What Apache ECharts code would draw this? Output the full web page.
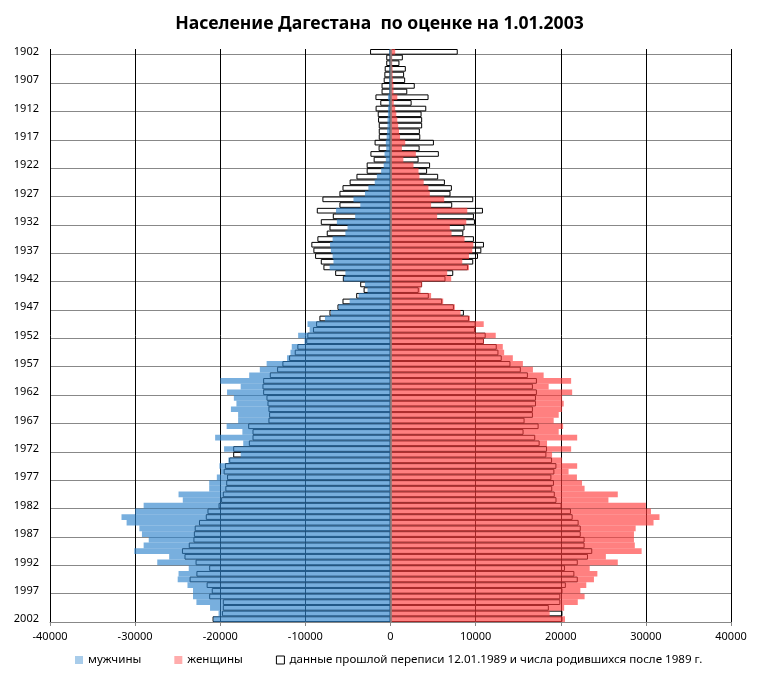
<!DOCTYPE html>
<html>
<head>
<meta charset="utf-8">
<script src="https://cdn.jsdelivr.net/npm/echarts@6/dist/echarts.min.js"></script>
<style>
  html, body { margin: 0; padding: 0; background: #fff; }
  #chart { width: 759px; height: 683px; }
</style>
</head>
<body>
<div id="chart"></div>
<script>
// birth years, top to bottom
const years = [
  '1902','1903','1904','1905','1906','1907','1908','1909','1910','1911',
  '1912','1913','1914','1915','1916','1917','1918','1919','1920','1921',
  '1922','1923','1924','1925','1926','1927','1928','1929','1930','1931',
  '1932','1933','1934','1935','1936','1937','1938','1939','1940','1941',
  '1942','1943','1944','1945','1946','1947','1948','1949','1950','1951',
  '1952','1953','1954','1955','1956','1957','1958','1959','1960','1961',
  '1962','1963','1964','1965','1966','1967','1968','1969','1970','1971',
  '1972','1973','1974','1975','1976','1977','1978','1979','1980','1981',
  '1982','1983','1984','1985','1986','1987','1988','1989','1990','1991',
  '1992','1993','1994','1995','1996','1997','1998','1999','2000','2001',
  '2002'
];

// estimate 1.01.2003, men (left side, negative)
const menNow = [
  -150,-100,-100,-120,-120,-150,-150,-150,-300,-200,
  -300,-300,-350,-350,-400,-450,-550,-500,-700,-550,
  -800,-1100,-1600,-1850,-2600,-3000,-4350,-3550,-6400,-4150,
  -6300,-5050,-5300,-6800,-7100,-7000,-6800,-6700,-7150,-5300,
  -5500,-3000,-2700,-3750,-4800,-6100,-7000,-7700,-9750,-9500,
  -10850,-10100,-11600,-11750,-12150,-14550,-15350,-16600,-20000,-17600,
  -19200,-18400,-18100,-18750,-17900,-17900,-19250,-17400,-20600,-17300,
  -19550,-17600,-19050,-20100,-19950,-20400,-21300,-21300,-24900,-24400,
  -29000,-30000,-31600,-31000,-29500,-29200,-28400,-29000,-30100,-26000,
  -27400,-23700,-24900,-25000,-23850,-23200,-23200,-22800,-21200,-20200,
  -20800
];

// estimate 1.01.2003, women
const womenNow = [
  550,200,200,250,250,300,350,350,800,380,
  550,680,800,900,1000,1120,1730,1340,2980,1510,
  2700,3290,3400,3900,4450,4620,6310,4770,9020,5480,
  8900,6970,7170,8700,9730,9610,9220,8430,9220,6660,
  7130,3710,3520,4770,6190,7560,8230,9330,10950,10000,
  12360,10980,13190,13350,14370,15550,16730,17990,21220,18580,
  21340,20160,20350,20160,19760,19170,20280,19760,21930,18390,
  21220,18980,20160,21930,20920,21900,22500,22800,26700,25600,
  30000,30600,31600,30900,28800,28600,28600,28700,29500,25300,
  26700,23400,24300,23900,23000,22300,22800,22000,20400,18700,
  20500
];

// census 12.01.1989 and births after 1989, men
const menOld = [
  -2400,-500,-500,-680,-720,-800,-1050,-1050,-1770,-1200,
  -1750,-1500,-1460,-1380,-1380,-1380,-1870,-1400,-2360,-1980,
  -2800,-2800,-4000,-4800,-5640,-6000,-8000,-6000,-8660,-6780,
  -8190,-7170,-7490,-8590,-9300,-9060,-8860,-8190,-7880,-6500,
  -5600,-3560,-3160,-4030,-5640,-6230,-7170,-8350,-8740,-9100,
  -9770,-9900,-10940,-11250,-11910,-12700,-13320,-14180,-14960,-15040,
  -14960,-14570,-14450,-14340,-14260,-14340,-16720,-16210,-16210,-16640,
  -18480,-18480,-18950,-19450,-19600,-19200,-19300,-19400,-19700,-19900,
  -20200,-21500,-21700,-22500,-23000,-23100,-23150,-23700,-24500,-24200,
  -22900,-21300,-22800,-23600,-21600,-21000,-21300,-19700,-19700,-19800,
  -20900
];

// census 12.01.1989 and births after 1989, women
const womenOld = [
  7900,1450,1050,1800,1600,1720,2850,1970,4470,2480,
  4200,3650,3720,3720,3450,3500,5100,3420,5680,3300,
  4650,4300,5600,6390,7210,7050,9720,7250,10860,9800,
  9920,8700,8550,9800,10980,10670,10280,9720,9100,7370,
  6460,3710,3320,4500,6070,7450,8620,9220,10000,9920,
  11180,10980,12480,12680,13070,14090,15310,16140,17200,16730,
  17200,17090,17090,16730,16730,15750,17400,15630,17000,17520,
  18390,18310,18980,19490,19250,18900,19200,19000,19300,19500,
  20100,21200,21400,22100,22350,22350,22800,22800,23700,23200,
  22000,20500,21600,22000,20600,20200,19950,19950,18600,20200,
  20200
];

const nameMen = 'мужчины';
const nameWomen = 'женщины';
const nameOld = 'данные прошлой переписи 12.01.1989 и числа родившихся после 1989 г.';

const font = 'Noto Sans';
const chart = echarts.init(document.getElementById('chart'), null, { renderer: 'canvas' });

// old data: only a black outline, drawn under the see-through fills
function outlineSeries(data) {
  return {
    name: nameOld,
    type: 'bar',
    data: data,
    barGap: '-100%',
    barCategoryGap: '0%',
    itemStyle: { color: 'rgba(255,255,255,0)', borderColor: '#000', borderWidth: 1 },
    emphasis: { disabled: true },
    z: 2
  };
}

chart.setOption({
  animation: false,
  textStyle: { fontFamily: font },
  title: {
    text: 'Население Дагестана  по оценке на 1.01.2003',
    left: 'center',
    top: 10,
    textStyle: { fontFamily: font, fontSize: 17.6, fontWeight: 'bold', color: '#000' }
  },
  legend: {
    bottom: 12,
    left: 70,
    icon: 'rect',
    itemWidth: 8,
    itemHeight: 8,
    itemGap: 33,
    textStyle: { fontFamily: font, fontSize: 11.6, color: '#000' },
    data: [
      { name: nameMen, itemStyle: { color: '#79b0de', borderWidth: 0 } },
      { name: nameWomen, itemStyle: { color: '#ff8080', borderWidth: 0 } },
      { name: nameOld, itemStyle: { color: '#fff', borderColor: '#000', borderWidth: 1 } }
    ]
  },
  grid: { left: 50, right: 28, top: 49, bottom: 61 },
  xAxis: {
    type: 'value',
    min: -40000,
    max: 40000,
    interval: 10000,
    axisLine: { show: true, lineStyle: { color: '#888' } },
    axisTick: { show: true, length: 4, lineStyle: { color: '#888' } },
    axisLabel: { color: '#000', fontSize: 11, margin: 9, formatter: v => String(v) },
    splitLine: { show: true, lineStyle: { color: '#000', width: 1 } }
  },
  yAxis: {
    type: 'category',
    data: years,
    inverse: true,
    axisLine: { show: false },
    axisTick: { show: true, length: 4, interval: i => i % 5 === 1, lineStyle: { color: '#888' } },
    axisLabel: { color: '#000', fontSize: 11, margin: 11, interval: i => i % 5 === 0 },
    splitLine: { show: true, interval: i => i % 5 === 1, lineStyle: { color: '#888', width: 1 } }
  },
  series: [
    outlineSeries(menOld),
    outlineSeries(womenOld),
    {
      name: nameMen,
      type: 'bar',
      data: menNow,
      barGap: '-100%',
      barCategoryGap: '0%',
      itemStyle: { color: 'rgb(47,132,204)', opacity: 0.65 },
      emphasis: { disabled: true },
      z: 3
    },
    {
      name: nameWomen,
      type: 'bar',
      data: womenNow,
      barGap: '-100%',
      barCategoryGap: '0%',
      itemStyle: { color: 'rgb(255,60,60)', opacity: 0.65 },
      emphasis: { disabled: true },
      z: 3,
      markLine: {
        silent: true,
        symbol: 'none',
        label: { show: false },
        lineStyle: { color: '#8c8c8c', width: 1.5, type: 'solid' },
        data: [{ xAxis: 0 }]
      }
    }
  ]
});
</script>
</body>
</html>
